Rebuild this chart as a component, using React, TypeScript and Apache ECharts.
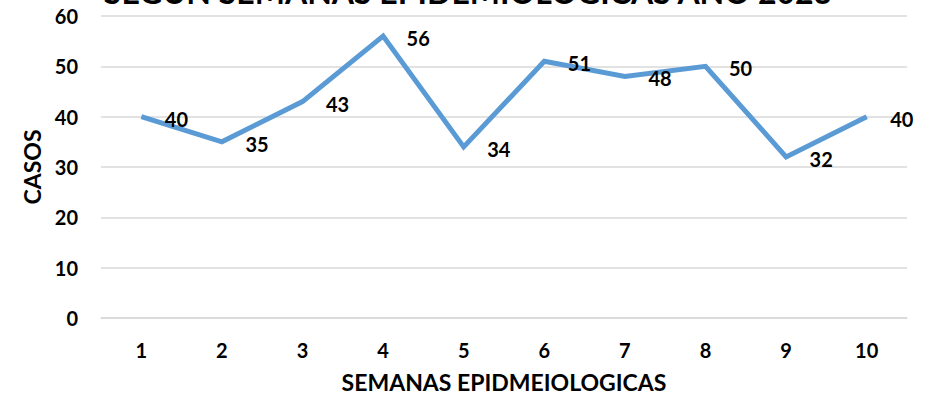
import React, { useEffect, useRef } from "react";
import * as echarts from "echarts";

const weeks = ["1", "2", "3", "4", "5", "6", "7", "8", "9", "10"];
const cases = [40, 35, 43, 56, 34, 51, 48, 50, 32, 40];
const titleText = "SEGÚN SEMANAS EPIDEMIOLOGICAS AÑO 2023";
const xName = "SEMANAS EPIDMEIOLOGICAS";
const yName = "CASOS";

const FONT = "Lato, 'Open Sans', sans-serif";

export default function App() {
  const ref = useRef<HTMLDivElement>(null);
  useEffect(() => {
    if (!ref.current) return;
    const chart = echarts.init(ref.current, undefined, { renderer: "svg" });
    chart.setOption({
      animation: false,
      backgroundColor: "#ffffff",
      textStyle: { fontFamily: FONT },
      title: {
        text: titleText,
        left: 468,
        textAlign: "center",
        top: -25,
        padding: 0,
        textStyle: {
          fontFamily: FONT,
          fontWeight: "bold",
          fontSize: 32,
          color: "#000",
        },
      },
      grid: {
        left: 101,
        right: 18,
        top: 16,
        bottom: 82,
        containLabel: false,
        outerBoundsMode: "none",
      },
      xAxis: {
        type: "category",
        data: weeks,
        boundaryGap: true,
        axisLine: { show: true, lineStyle: { color: "#d9d9d9", width: 1.5 } },
        axisTick: { show: false },
        axisLabel: {
          color: "#000",
          fontWeight: "bold",
          fontSize: 20,
          fontFamily: FONT,
          margin: 22,
        },
        name: xName,
        nameLocation: "middle",
        nameGap: 52,
        nameTextStyle: { color: "#000", fontWeight: "bold", fontSize: 23, fontFamily: FONT },
      },
      yAxis: {
        type: "value",
        min: 0,
        max: 60,
        interval: 10,
        axisLine: { show: false },
        axisTick: { show: false },
        splitLine: { lineStyle: { color: "#d9d9d9", width: 1.5 } },
        axisLabel: {
          color: "#000",
          fontWeight: "bold",
          fontSize: 20,
          fontFamily: FONT,
          margin: 23,
        },
        name: yName,
        nameLocation: "middle",
        nameGap: 58,
        nameRotate: 90,
        nameTextStyle: { color: "#000", fontWeight: "bold", fontSize: 23, fontFamily: FONT },
      },
      series: [
        {
          type: "line",
          data: cases,
          symbol: "circle",
          symbolSize: 1,
          showSymbol: true,
          itemStyle: { color: "rgba(0,0,0,0)" },
          lineStyle: { color: "#5B9BD5", width: 5, join: "miter" },
          label: {
            show: true,
            position: "right",
            distance: 23,
            offset: [0, 2],
            color: "#000",
            fontWeight: "bold",
            fontSize: 20,
            fontFamily: FONT,
          },
        },
      ],
    });
    return () => chart.dispose();
  }, []);
  return (
    <div
      ref={ref}
      style={{ position: "absolute", left: 0, top: 0, width: 925, height: 400 }}
    />
  );
}
